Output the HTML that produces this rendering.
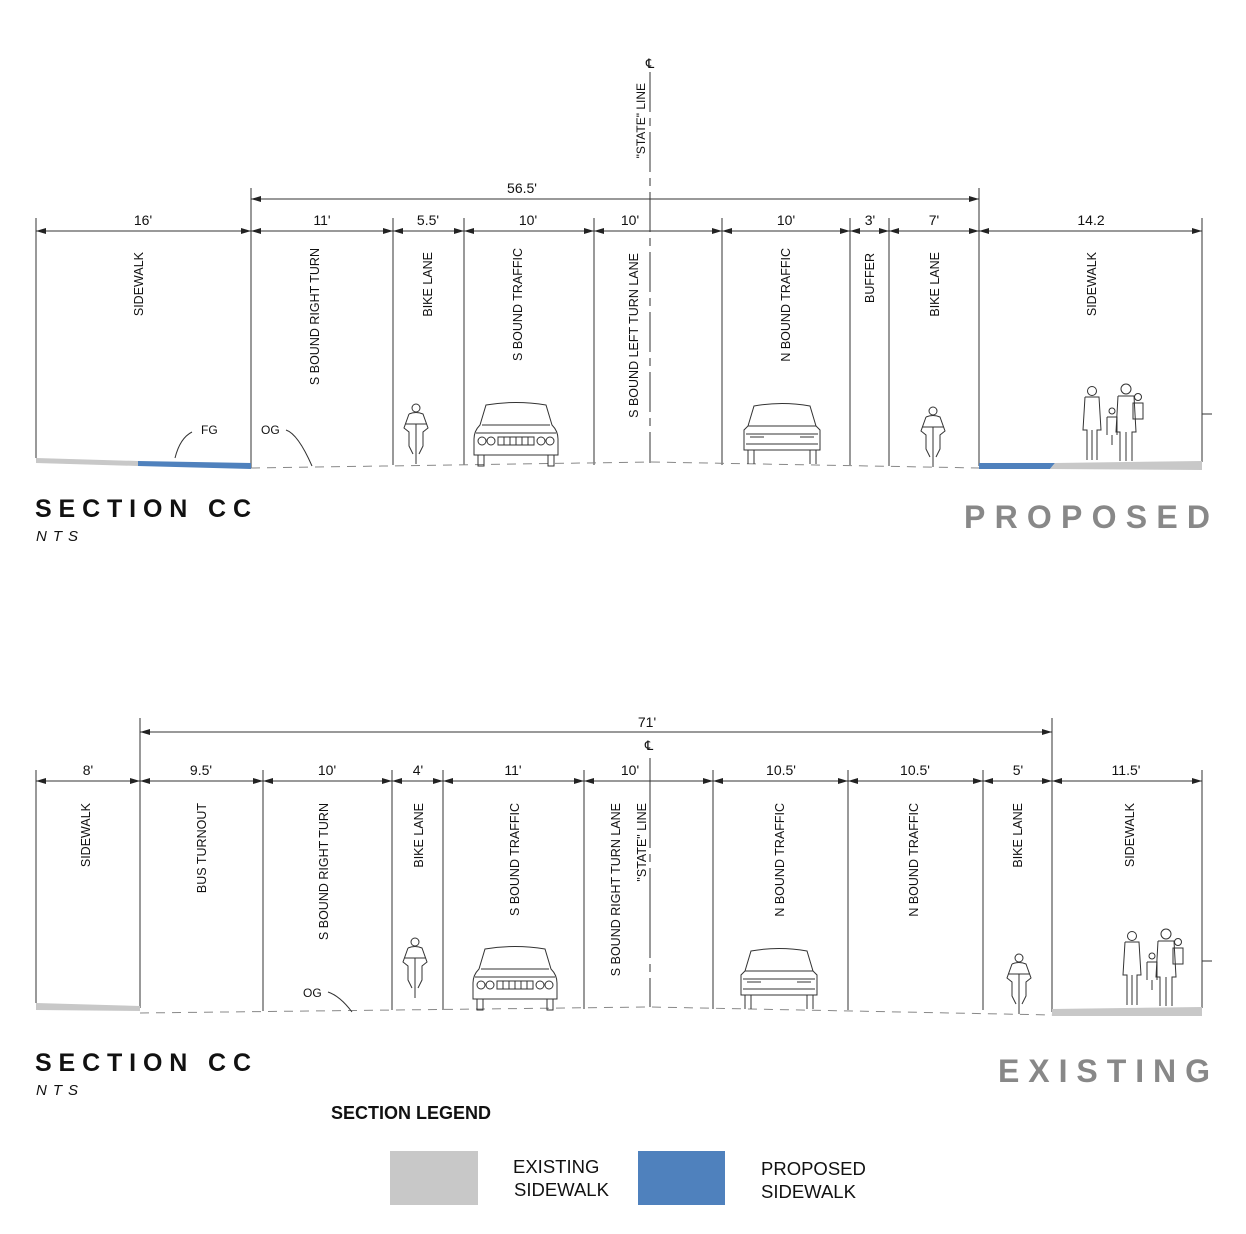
<!DOCTYPE html>
<html><head><meta charset="utf-8"><style>
html,body{margin:0;padding:0;background:#fff}
svg{display:block}
text{font-family:"Liberation Sans",Arial,sans-serif;fill:#111}
.d{font-size:14px;text-anchor:middle}
.l{font-size:12.5px;text-anchor:end}
</style></head><body>
<svg width="1246" height="1234" viewBox="0 0 1246 1234" xmlns="http://www.w3.org/2000/svg">
<defs>
<marker id="a" viewBox="0 0 10 6" refX="10" refY="3" markerWidth="10" markerHeight="6" orient="auto-start-reverse"><path d="M0,0 L10,3 L0,6 z" fill="#222"/></marker>
<g id="carF" fill="none" stroke="#333" stroke-width="1">
<path d="M12,2 Q42,-3 72,2 L78,22 Q84,28 84,36 L84,52 L0,52 L0,36 Q0,28 6,22 Z"/>
<path d="M8,22 L76,22"/><path d="M2,30 L82,30"/>
<circle cx="8" cy="38" r="4"/><circle cx="17" cy="38" r="4"/><circle cx="67" cy="38" r="4"/><circle cx="76" cy="38" r="4"/>
<path d="M24,34h36v8h-36z M30,34v8 M36,34v8 M42,34v8 M48,34v8 M54,34v8"/>
<path d="M4,52 v11 h6 v-11 M74,52 v11 h6 v-11"/>
</g>
<g id="carR" fill="none" stroke="#333" stroke-width="1">
<path d="M10,2 Q38,-3 66,2 L72,22 L76,26 L76,46 L0,46 L0,26 L4,22 Z"/>
<path d="M4,22 L72,22"/><path d="M2,30h72 M2,40h72"/><path d="M6,33h14 M56,33h14"/>
<path d="M4,46 v14 M72,46 v14 M10,46 v14 M66,46 v14"/>
</g>
<g id="bike" fill="none" stroke="#333" stroke-width="1">
<circle cx="13" cy="6" r="4"/><path d="M6,12 Q13,9 20,12 L25,26 L20,30 L20,44 L16,52 M6,12 L1,26 L6,30 L6,44 L10,52 M2,22 h22"/><path d="M13,22 V62"/>
</g>
<g id="ppl" fill="none" stroke="#333" stroke-width="1">
<circle cx="10" cy="6" r="4.5"/><path d="M3,12 h14 L19,45 h-4 V75 M3,12 L1,45 h4 V75 M10,45 V75"/>
<circle cx="30" cy="26" r="3"/><path d="M25,32 h10 v18 M25,32 v18 M30,50 V60"/>
<circle cx="44" cy="4" r="5"/><path d="M36,11 h16 l2,36 h-4 V76 M36,11 l-2,36 h4 V76 M44,47 V76"/>
<circle cx="56" cy="12" r="3.5"/><path d="M51,18 h10 v16 h-10 z"/>
</g>
</defs>

<!-- ===== TOP SECTION ===== -->
<g stroke="#333" stroke-width="1" fill="none">
<path d="M36,218V458 M251,188V468 M393,218V465 M464,218V465 M594,218V465 M722,218V465 M850,218V465 M889,218V466 M979,188V466 M1202,218V462"/>
<path d="M36,231H251" marker-start="url(#a)" marker-end="url(#a)"/>
<path d="M251,231H393" marker-start="url(#a)" marker-end="url(#a)"/>
<path d="M393,231H464" marker-start="url(#a)" marker-end="url(#a)"/>
<path d="M464,231H594" marker-start="url(#a)" marker-end="url(#a)"/>
<path d="M594,231H722" marker-start="url(#a)" marker-end="url(#a)"/>
<path d="M722,231H850" marker-start="url(#a)" marker-end="url(#a)"/>
<path d="M850,231H889" marker-start="url(#a)" marker-end="url(#a)"/>
<path d="M889,231H979" marker-start="url(#a)" marker-end="url(#a)"/>
<path d="M979,231H1202" marker-start="url(#a)" marker-end="url(#a)"/>
<path d="M251,199H979" marker-start="url(#a)" marker-end="url(#a)"/>
<path d="M650,72V463" stroke-dasharray="40,6,8,6"/>
<path d="M1202,414h10"/>
<path d="M251,468 L650,462 L979,468" stroke="#888" stroke-dasharray="9,7"/>
<path d="M192,432 Q180,438 175,458 M286,430 Q298,434 312,466"/>
</g>
<path d="M36,458 L138,461 L138,466 L36,463Z" fill="#c8c8c8"/>
<path d="M138,461 L251,463 L251,469 L138,466Z" fill="#4f81bd"/>
<path d="M979,463 L1055,463 L1050,469 L979,469Z" fill="#4f81bd"/>
<path d="M1055,463 L1202,461 L1202,470 L1050,469Z" fill="#c8c8c8"/>
<text x="650" y="68" style="font-size:13px;text-anchor:middle">℄</text>
<text class="l" transform="translate(645,83) rotate(-90)" style="font-size:12px;text-anchor:end">"STATE" LINE</text>
<text class="d" x="522" y="193">56.5'</text>
<text class="d" x="143" y="225">16'</text>
<text class="d" x="322" y="225">11'</text>
<text class="d" x="428" y="225">5.5'</text>
<text class="d" x="528" y="225">10'</text>
<text class="d" x="630" y="225">10'</text>
<text class="d" x="786" y="225">10'</text>
<text class="d" x="870" y="225">3'</text>
<text class="d" x="934" y="225">7'</text>
<text class="d" x="1091" y="225">14.2</text>
<text class="l" transform="translate(143,252) rotate(-90)">SIDEWALK</text>
<text class="l" transform="translate(319,248) rotate(-90)">S BOUND RIGHT TURN</text>
<text class="l" transform="translate(432,252) rotate(-90)">BIKE LANE</text>
<text class="l" transform="translate(522,248) rotate(-90)">S BOUND TRAFFIC</text>
<text class="l" transform="translate(638,253) rotate(-90)">S BOUND LEFT TURN LANE</text>
<text class="l" transform="translate(790,248) rotate(-90)">N BOUND TRAFFIC</text>
<text class="l" transform="translate(874,253) rotate(-90)">BUFFER</text>
<text class="l" transform="translate(939,252) rotate(-90)">BIKE LANE</text>
<text class="l" transform="translate(1096,252) rotate(-90)">SIDEWALK</text>
<text x="201" y="434" style="font-size:12px">FG</text>
<text x="261" y="434" style="font-size:12px">OG</text>
<use href="#bike" x="403" y="402"/>
<use href="#carF" x="474" y="403"/>
<use href="#carR" x="744" y="404"/>
<use href="#bike" x="920" y="405"/>
<use href="#ppl" x="1082" y="385"/>
<text x="35" y="517" style="font-size:25px;font-weight:bold" textLength="216" lengthAdjust="spacing">SECTION CC</text>
<text x="36" y="541" style="font-size:15px;font-style:italic" textLength="42" lengthAdjust="spacing">NTS</text>
<text x="964" y="528" style="font-size:32px;font-weight:bold;fill:#888" textLength="246" lengthAdjust="spacing">PROPOSED</text>

<!-- ===== BOTTOM SECTION ===== -->
<g stroke="#333" stroke-width="1" fill="none">
<path d="M36,770V1003 M140,718V1008 M263,770V1011 M392,770V1010 M443,770V1010 M584,770V1009 M713,770V1009 M848,770V1010 M983,770V1010 M1052,718V1012 M1202,770V1008"/>
<path d="M36,781H140" marker-start="url(#a)" marker-end="url(#a)"/>
<path d="M140,781H263" marker-start="url(#a)" marker-end="url(#a)"/>
<path d="M263,781H392" marker-start="url(#a)" marker-end="url(#a)"/>
<path d="M392,781H443" marker-start="url(#a)" marker-end="url(#a)"/>
<path d="M443,781H584" marker-start="url(#a)" marker-end="url(#a)"/>
<path d="M584,781H713" marker-start="url(#a)" marker-end="url(#a)"/>
<path d="M713,781H848" marker-start="url(#a)" marker-end="url(#a)"/>
<path d="M848,781H983" marker-start="url(#a)" marker-end="url(#a)"/>
<path d="M983,781H1052" marker-start="url(#a)" marker-end="url(#a)"/>
<path d="M1052,781H1202" marker-start="url(#a)" marker-end="url(#a)"/>
<path d="M140,732H1052" marker-start="url(#a)" marker-end="url(#a)"/>
<path d="M650,758V1007" stroke-dasharray="90,6,8,6"/>
<path d="M1202,961h10"/>
<path d="M140,1013 L650,1007 L1052,1015" stroke="#888" stroke-dasharray="9,7"/>
<path d="M328,992 Q340,996 352,1012"/>
</g>
<path d="M36,1003 L140,1006 L140,1011 L36,1010Z" fill="#c8c8c8"/>
<path d="M1052,1009 L1202,1007 L1202,1016 L1052,1016Z" fill="#c8c8c8"/>
<text x="649" y="750" style="font-size:13px;text-anchor:middle">℄</text>
<text class="d" x="647" y="727">71'</text>
<text class="d" x="88" y="775">8'</text>
<text class="d" x="201" y="775">9.5'</text>
<text class="d" x="327" y="775">10'</text>
<text class="d" x="418" y="775">4'</text>
<text class="d" x="513" y="775">11'</text>
<text class="d" x="630" y="775">10'</text>
<text class="d" x="781" y="775">10.5'</text>
<text class="d" x="915" y="775">10.5'</text>
<text class="d" x="1018" y="775">5'</text>
<text class="d" x="1126" y="775">11.5'</text>
<text class="l" transform="translate(90,803) rotate(-90)">SIDEWALK</text>
<text class="l" transform="translate(206,803) rotate(-90)">BUS TURNOUT</text>
<text class="l" transform="translate(328,803) rotate(-90)">S BOUND RIGHT TURN</text>
<text class="l" transform="translate(423,803) rotate(-90)">BIKE LANE</text>
<text class="l" transform="translate(519,803) rotate(-90)">S BOUND TRAFFIC</text>
<text class="l" transform="translate(620,803) rotate(-90)">S BOUND RIGHT TURN LANE</text>
<text class="l" transform="translate(646,803) rotate(-90)">"STATE" LINE</text>
<text class="l" transform="translate(784,803) rotate(-90)">N BOUND TRAFFIC</text>
<text class="l" transform="translate(918,803) rotate(-90)">N BOUND TRAFFIC</text>
<text class="l" transform="translate(1022,803) rotate(-90)">BIKE LANE</text>
<text class="l" transform="translate(1134,803) rotate(-90)">SIDEWALK</text>
<text x="303" y="997" style="font-size:12px">OG</text>
<use href="#bike" x="402" y="936"/>
<use href="#carF" x="473" y="947"/>
<use href="#carR" x="741" y="949"/>
<use href="#bike" x="1006" y="952"/>
<use href="#ppl" x="1122" y="930"/>
<text x="35" y="1071" style="font-size:25px;font-weight:bold" textLength="216" lengthAdjust="spacing">SECTION CC</text>
<text x="36" y="1095" style="font-size:15px;font-style:italic" textLength="42" lengthAdjust="spacing">NTS</text>
<text x="998" y="1082" style="font-size:32px;font-weight:bold;fill:#888" textLength="212" lengthAdjust="spacing">EXISTING</text>

<!-- legend -->
<text x="331" y="1119" style="font-size:18px;font-weight:bold">SECTION LEGEND</text>
<rect x="390" y="1151" width="88" height="54" fill="#c8c8c8"/>
<text x="513" y="1173" style="font-size:18.5px">EXISTING</text>
<text x="514" y="1196" style="font-size:18.5px">SIDEWALK</text>
<rect x="638" y="1151" width="87" height="54" fill="#4f81bd"/>
<text x="761" y="1175" style="font-size:18.5px">PROPOSED</text>
<text x="761" y="1198" style="font-size:18.5px">SIDEWALK</text>
</svg>
</body></html>
